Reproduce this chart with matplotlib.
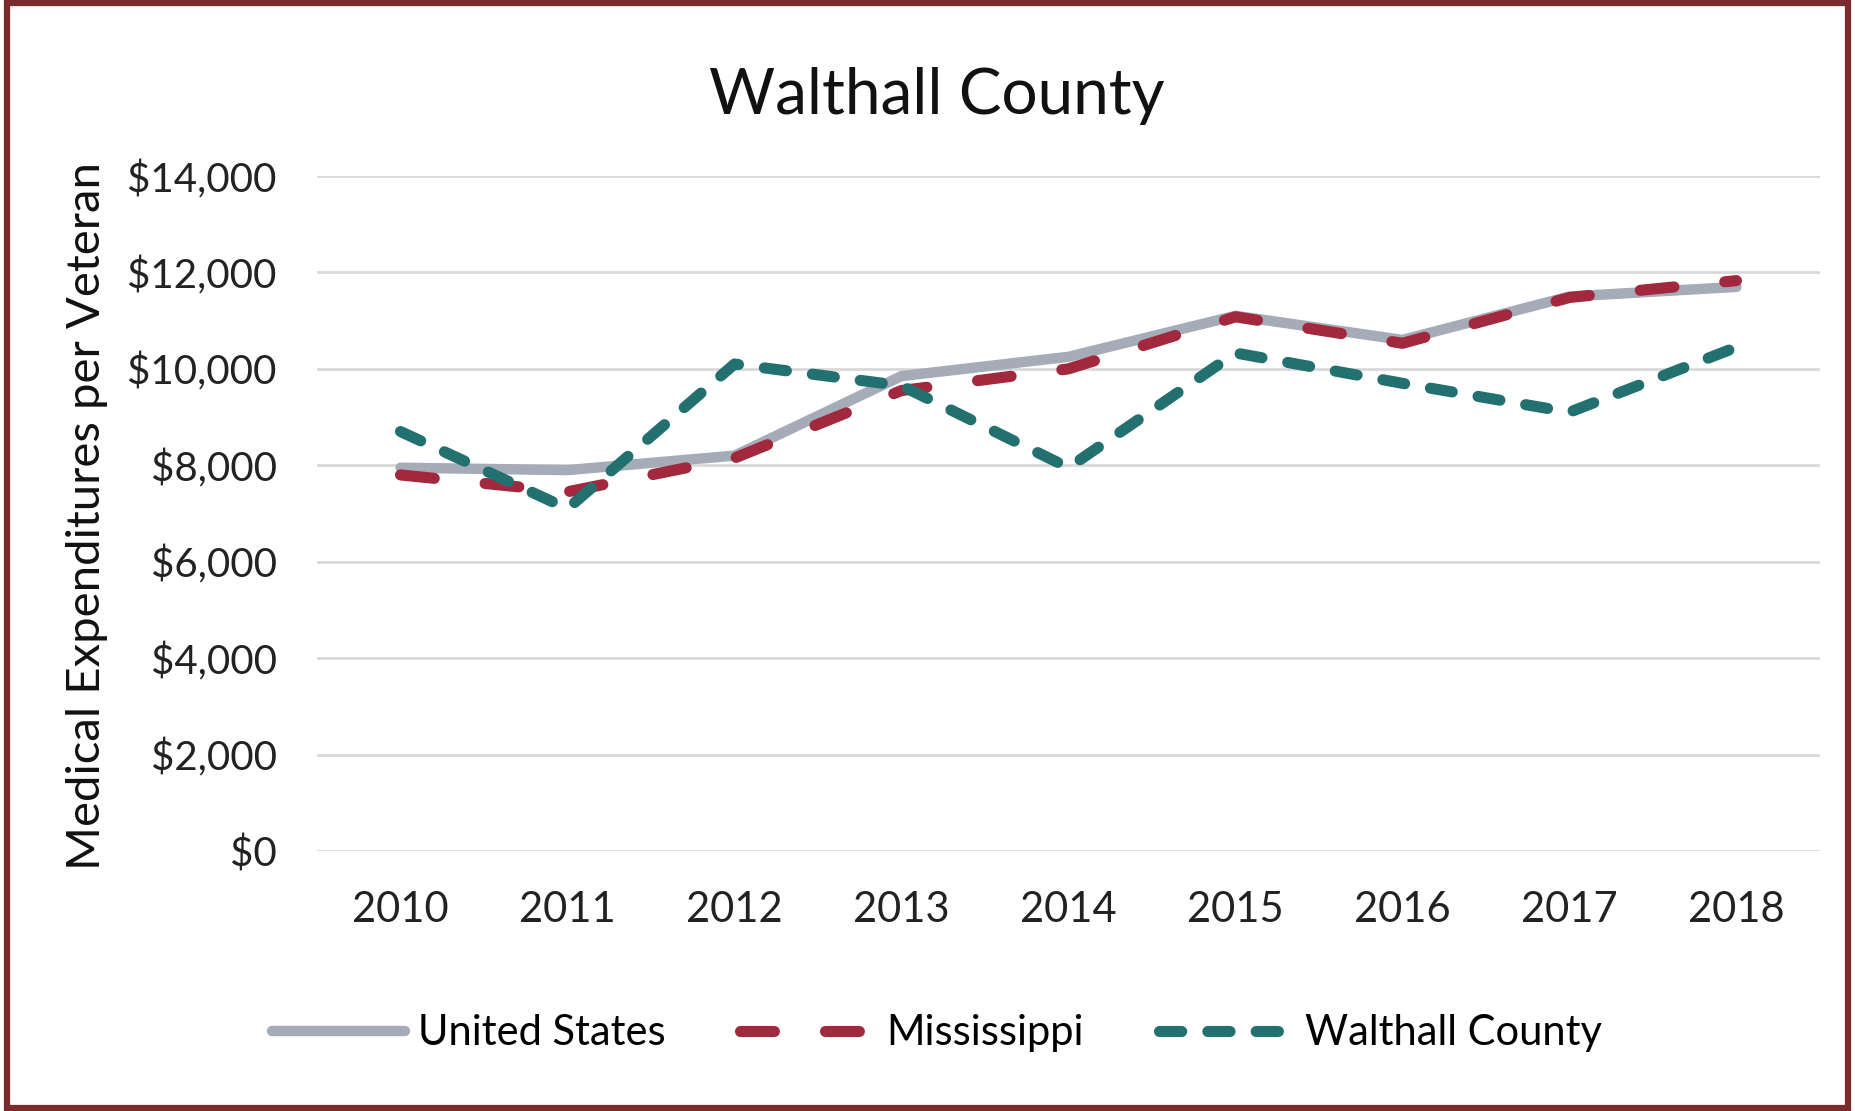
import matplotlib.pyplot as plt
from matplotlib.patches import Rectangle

plt.rcParams['font.family'] = ['Lato', 'DejaVu Sans']

# values
years = ['2010', '2011', '2012', '2013', '2014', '2015', '2016', '2017', '2018']
united_states = [7950, 7900, 8200, 9850, 10250, 11100, 10600, 11500, 11700]
mississippi = [7800, 7450, 8150, 9550, 10000, 11080, 10530, 11480, 11830]
walthall = [8700, 7100, 10100, 9650, 7950, 10330, 9700, 9100, 10450]
y_ticks = [0, 2000, 4000, 6000, 8000, 10000, 12000, 14000]

fig = plt.figure(figsize=(18.55, 11.11), dpi=100)
ax = fig.add_axes([0.1709, 0.234, 0.8102, 0.6076])

x = range(len(years))
ax.plot(x, united_states, color='#A5ACB8', lw=7.5, solid_capstyle='round',
        label='United States', zorder=3)
ax.plot(x, mississippi, color='#A1283D', lw=8, dashes=(3.05, 4.6),
        dash_capstyle='round', label='Mississippi', zorder=4)
ax.plot(x, walthall, color='#22706F', lw=8, dashes=(2.0, 2.35),
        dash_capstyle='round', label='Walthall County', zorder=5)

ax.set_xlim(-0.5, len(years) - 0.5)
ax.set_ylim(0, 14000)
ax.set_xticks(list(x))
ax.set_xticklabels(years)
ax.set_yticks(y_ticks)
ax.set_yticklabels(['${:,}'.format(v) for v in y_ticks])
ax.tick_params(axis='y', length=0, pad=29, labelsize=29, colors='#222222')
ax.tick_params(axis='x', length=0, pad=29, labelsize=30, colors='#222222')
ax.yaxis.grid(True, color='#D9D9D9', lw=2)
ax.set_axisbelow(True)
for s in ax.spines.values():
    s.set_visible(False)

fig.text(0.505, 0.914, 'Walthall County', ha='center', va='center',
         fontsize=46, color='#111111')
fig.text(0.047, 0.536, 'Medical Expenditures per Veteran', rotation=90,
         ha='center', va='center', fontsize=34, color='#111111')

fig.legend(loc='center', bbox_to_anchor=(0.505, 0.070), ncol=3, frameon=False,
           fontsize=30, handlelength=3.2, handletextpad=0.3, columnspacing=1.8)

# dark red frame round the chart
fig.patches.append(Rectangle((7 / 1855, 3 / 1111), 1841 / 1855, 1105 / 1111,
                             transform=fig.transFigure, fill=False,
                             edgecolor='#7A2B2B', lw=4.5))

fig.savefig('out.png', dpi=100)
